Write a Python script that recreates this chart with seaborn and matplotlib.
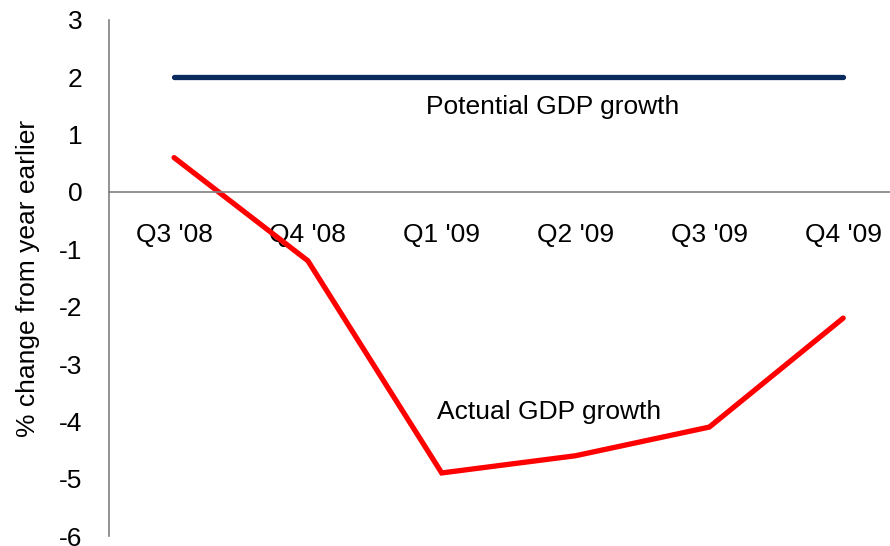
import matplotlib
matplotlib.use("Agg")
import matplotlib.pyplot as plt
import seaborn as sns
import pandas as pd

quarters = ["Q3 '08", "Q4 '08", "Q1 '09", "Q2 '09", "Q3 '09", "Q4 '09"]
actual_growth = [0.6, -1.2, -4.9, -4.6, -4.1, -2.2]
potential_growth = [2, 2, 2, 2, 2, 2]
y_ticks = [-6, -5, -4, -3, -2, -1, 0, 1, 2, 3]

sns.set_theme(style="white")
plt.rcParams["font.family"] = ["Liberation Sans", "DejaVu Sans"]
plt.rcParams["text.color"] = "black"

df = pd.DataFrame({
    "pos": list(range(len(quarters))) * 2,
    "value": actual_growth + potential_growth,
    "series": ["Actual GDP growth"] * len(quarters) + ["Potential GDP growth"] * len(quarters),
})

fig = plt.figure(figsize=(8.9, 5.46), dpi=100)
ax = fig.add_axes([0.1225, 0.0183, 0.8775, 0.9451])

sns.lineplot(data=df, x="pos", y="value", hue="series",
             palette={"Actual GDP growth": "#ff0000", "Potential GDP growth": "#0b2a5e"},
             linewidth=3.8, legend=False, ax=ax)
for line in ax.get_lines():
    line.set_solid_capstyle("round")
    line.set_solid_joinstyle("miter")

ax.set_ylim(-6, 3)
ax.set_xlim(-0.486, 5.35)
ax.set_yticks(y_ticks)
ax.set_yticklabels([str(v) for v in y_ticks])
ax.set_xticks(range(len(quarters)))
ax.set_xticklabels(quarters)

for side in ["top", "right"]:
    ax.spines[side].set_visible(False)
ax.spines["left"].set_color("#808080")
ax.spines["left"].set_linewidth(1.2)
ax.spines["bottom"].set_position(("data", 0))
ax.spines["bottom"].set_color("#808080")
ax.spines["bottom"].set_linewidth(1.2)

ax.tick_params(axis="both", length=0, labelsize=19, colors="black")
ax.tick_params(axis="x", pad=22)
ax.tick_params(axis="y", pad=19)

ax.set_xlabel("")
ax.set_ylabel("% change from year earlier", fontsize=19, color="black")
ax.yaxis.set_label_coords(-0.088, 0.5)

ax.text(2.83, 1.48, "Potential GDP growth", ha="center", va="center", fontsize=19, color="black")
ax.text(2.80, -3.84, "Actual GDP growth", ha="center", va="center", fontsize=19, color="black")

fig.savefig("out.png", dpi=100)
